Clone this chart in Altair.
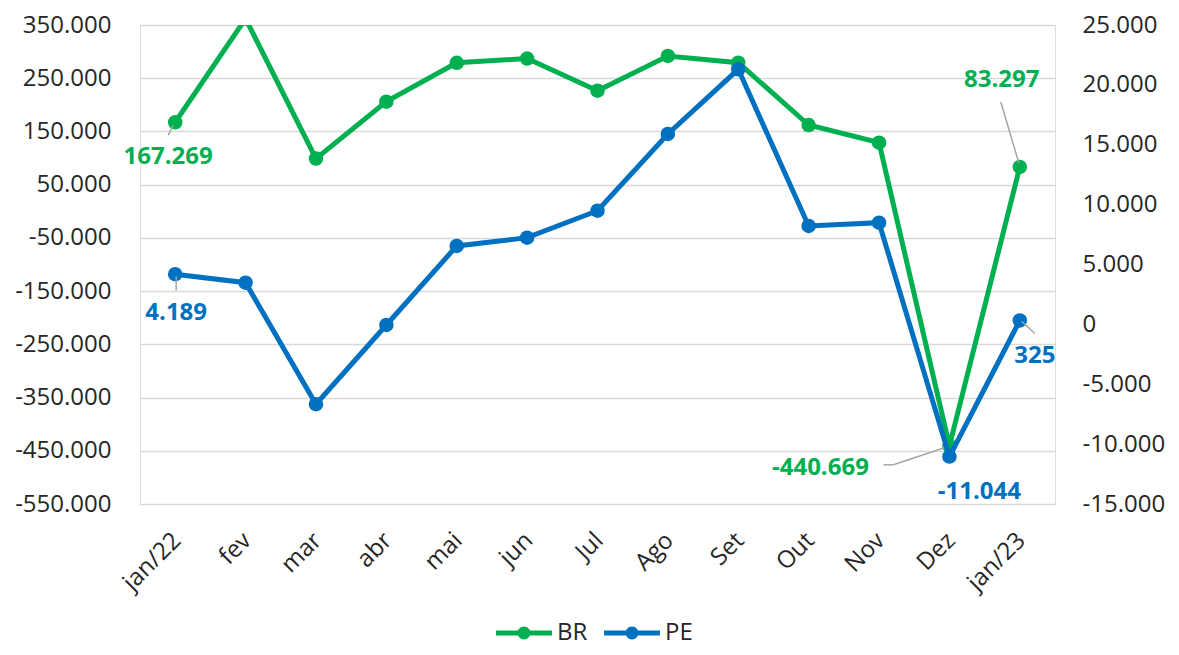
import altair as alt
import pandas as pd

months = ["jan/22", "fev", "mar", "abr", "mai", "jun", "Jul", "Ago", "Set", "Out", "Nov", "Dez", "jan/23"]
br_values = [167269, 362000, 99000, 206000, 279000, 287000, 226600, 291800, 279200, 162100, 128900, -440669, 83297]
pe_values = [4189, 3480, -6670, -50, 6550, 7240, 9490, 15900, 21300, 8220, 8490, -11044, 325]
series_names = ["BR", "PE"]
series_colors = ["#00B050", "#0070C0"]
br_ticks = list(range(-550000, 350001, 100000))
pe_ticks = list(range(-15000, 25001, 5000))

df_br = pd.DataFrame({"month": months, "value": br_values, "series": "BR"})
df_pe = pd.DataFrame({"month": months, "value": pe_values, "series": "PE"})

FONT = "Open Sans"
LABEL_COLOR = "#262626"
GREEN, BLUE = series_colors
LEADER = "#A6A6A6"

x_enc = alt.X(
    "month:N", sort=months,
    scale=alt.Scale(type="point", padding=0.5),
    axis=alt.Axis(title=None, labelAngle=-45, labelFontSize=24, domain=False,
                  ticks=False, labelPadding=24, labelOffset=-7,
                  labelFont=FONT, labelColor=LABEL_COLOR),
)

y_br = alt.Y(
    "value:Q",
    scale=alt.Scale(domain=[-550000, 350000], nice=False, zero=False),
    axis=alt.Axis(title=None, orient="left", values=br_ticks, format=",.0f",
                  labelFontSize=24, labelFont=FONT, labelColor=LABEL_COLOR,
                  grid=True, gridColor="#D9D9D9", gridWidth=1.5,
                  domain=False, ticks=False, labelPadding=29),
)
y_pe = alt.Y(
    "value:Q",
    scale=alt.Scale(domain=[-15000, 25000], nice=False, zero=False),
    axis=alt.Axis(title=None, orient="right", values=pe_ticks, format=",.0f",
                  labelFontSize=24, labelFont=FONT, labelColor=LABEL_COLOR,
                  grid=False, domain=False, ticks=False, labelPadding=27),
)

sym_path = ("M-2,-0.18L2,-0.18L2,0.18L-2,0.18Z "
            "M-0.46,0A0.46,0.46 0 1,1 0.46,0A0.46,0.46 0 1,1 -0.46,0Z")
legend = alt.Legend(
    title=None, orient="none", legendX=370, legendY=594, direction="horizontal",
    symbolType=sym_path, symbolSize=784, symbolStrokeWidth=0, symbolOpacity=1,
    labelFontSize=24, labelFont=FONT, labelColor=LABEL_COLOR, labelOffset=19,
    columnPadding=16, padding=0,
)
color_enc = alt.Color("series:N", scale=alt.Scale(domain=series_names, range=series_colors), legend=legend)


def leader(base, y_enc, month, a, b, c, d):
    return base.transform_filter(alt.datum.month == month).mark_rule(
        color=LEADER, strokeWidth=1.5, xOffset=a, yOffset=b, x2Offset=c, y2Offset=d
    ).encode(x=x_enc, y=y_enc, x2=alt.X2("month:N"), y2=alt.Y2("value:Q"))


def label(base, y_enc, month, color, dx, dy):
    return base.transform_filter(alt.datum.month == month).mark_text(
        font=FONT, fontSize=24, fontWeight="bold", color=color,
        align="center", baseline="middle", dx=dx, dy=dy
    ).encode(x=x_enc, y=y_enc, text=alt.Text("value:Q", format=",.0f"))


base_br = alt.Chart(df_br)
base_pe = alt.Chart(df_pe)

br_layer = alt.layer(
    base_br.mark_line(color=GREEN, strokeWidth=5, clip=True).encode(x=x_enc, y=y_br),
    base_br.mark_point(filled=True, size=210, opacity=1, clip=True).encode(x=x_enc, y=y_br, color=color_enc),
    leader(base_br, y_br, "jan/22", -2, 3, -7, 13),
    leader(base_br, y_br, "Dez", -66, 19, -56, 19),
    leader(base_br, y_br, "Dez", -56, 19, -2, 1),
    leader(base_br, y_br, "jan/23", -19, -65, -1, -4),
    label(base_br, y_br, "jan/22", GREEN, -7, 35),
    label(base_br, y_br, "Dez", GREEN, -129, 22),
    label(base_br, y_br, "jan/23", GREEN, -18, -87),
)

pe_layer = alt.layer(
    base_pe.mark_line(color=BLUE, strokeWidth=5).encode(x=x_enc, y=y_pe),
    base_pe.mark_point(filled=True, size=210, opacity=1).encode(x=x_enc, y=y_pe, color=color_enc),
    leader(base_pe, y_pe, "jan/22", 1, 2, 1, 16),
    leader(base_pe, y_pe, "jan/23", 2, 1, 15, 13),
    label(base_pe, y_pe, "jan/22", BLUE, 1, 39),
    label(base_pe, y_pe, "Dez", BLUE, 30, 35),
    label(base_pe, y_pe, "jan/23", BLUE, 15, 36),
)

chart = alt.layer(br_layer, pe_layer).resolve_scale(y="independent").properties(
    width=915, height=479,
    autosize=alt.AutoSizeParams(type="none"),
    padding={"left": 132, "top": 17, "right": 116, "bottom": 143},
).configure_view(stroke=None).configure(
    locale={"number": {"decimal": ",", "thousands": ".", "grouping": [3],
                       "currency": ["R$", ""], "minus": "-"}}
)

chart.save("out.html", embed_options={"renderer": "svg", "actions": False})
